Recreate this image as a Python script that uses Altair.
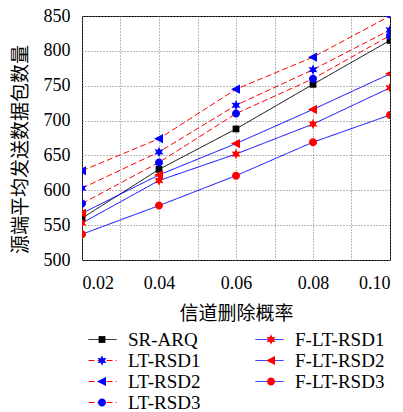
import math
import altair as alt
import pandas as pd

# ---------------- data ----------------
x_vals = [0.02, 0.04, 0.06, 0.08, 0.10]
series_names = ["SR-ARQ", "LT-RSD1", "LT-RSD2", "LT-RSD3",
                "F-LT-RSD1", "F-LT-RSD2", "F-LT-RSD3"]
sr_arq = [560, 630, 688, 752, 815]
lt_rsd1 = [603, 655, 722, 773, 830]
lt_rsd2 = [628, 674, 745, 791, 850]
lt_rsd3 = [581, 640, 710, 760, 822]
f_lt_rsd1 = [553, 614, 652, 695, 747]
f_lt_rsd2 = [567, 622, 667, 716, 767]
f_lt_rsd3 = [537, 578, 621, 669, 708]
all_values = [sr_arq, lt_rsd1, lt_rsd2, lt_rsd3, f_lt_rsd1, f_lt_rsd2, f_lt_rsd3]

x_tick_values = [0.02, 0.03, 0.04, 0.05, 0.06, 0.07, 0.08, 0.09, 0.10]
y_tick_values = [500, 550, 600, 650, 700, 750, 800, 850]

# ---------------- styles ----------------
line_colors = ["#000000", "#ff0000", "#ff0000", "#ff0000", "#0000ff", "#0000ff", "#0000ff"]
marker_colors = ["#000000", "#0000ff", "#0000ff", "#0000ff", "#ff0000", "#ff0000", "#ff0000"]
dashes = [[1, 0], [6, 3], [6, 3], [6, 3], [1, 0], [1, 0], [1, 0]]
marker_kinds = ["square", "star", "tri", "circle", "star", "tri", "circle"]

POINT_SIZE = 64          # -> 4 px per path unit
LEGEND_SYMBOL = 784      # -> 28 px wide legend symbol, 14 px per path unit


def shape_path(kind, s):
    def fmt(v):
        return f"{v * s:.3f}"
    if kind == "circle":
        r = 1.0
        return (f"M{fmt(-r)},0A{fmt(r)},{fmt(r)},0,1,1,{fmt(r)},0"
                f"A{fmt(r)},{fmt(r)},0,1,1,{fmt(-r)},0Z")
    if kind == "square":
        pts = [(-0.85, -0.85), (0.85, -0.85), (0.85, 0.85), (-0.85, 0.85)]
    elif kind == "tri":
        pts = [(-1.25, 0.0), (1.0, -1.15), (1.0, 1.15)]
    else:  # six-pointed star
        pts = []
        for k in range(12):
            ang = math.radians(-90 + 30 * k)
            rad = 1.3 if k % 2 == 0 else 0.65
            pts.append((rad * math.cos(ang), rad * math.sin(ang)))
    return "M" + "L".join(f"{fmt(px)},{fmt(py)}" for px, py in pts) + "Z"


plot_paths = [shape_path(k, 1.0) for k in marker_kinds]
leg_scale = math.sqrt(POINT_SIZE) / math.sqrt(LEGEND_SYMBOL)
leg_paths = [shape_path(k, leg_scale) for k in marker_kinds]

rows = []
for order, (name, vals) in enumerate(zip(series_names, all_values)):
    for xv, yv in zip(x_vals, vals):
        rows.append({"series": name, "series_leg": name, "order": order, "x": xv, "y": yv})
df = pd.DataFrame(rows)

LATIN = "Liberation Serif"
CJK = "Noto Sans CJK SC"

x_enc = alt.X(
    "x:Q",
    scale=alt.Scale(domain=[0.02, 0.10], nice=False, zero=False),
    axis=alt.Axis(
        values=x_tick_values,
        labelExpr="round(datum.value*100) % 2 == 0 ? format(datum.value, '.2f') : ''",
        title="信道删除概率",
        labelPadding=14,
        titleY=53,
        titleBaseline="middle",
    ),
)
y_enc = alt.Y(
    "y:Q",
    scale=alt.Scale(domain=[500, 850], nice=False, zero=False),
    axis=alt.Axis(
        values=y_tick_values,
        title="源端平均发送数据包数量",
        labelPadding=12,
        titleX=-62,
        titleY=133,
        titleBaseline="middle",
        titleAlign="center",
    ),
)

common_leg = dict(
    orient="none", legendX=6, legendY=313, columns=2,
    rowPadding=0, clipHeight=21, symbolSize=LEGEND_SYMBOL, labelOffset=11,
    labelFont=LATIN, labelFontSize=19, labelColor="#000000", padding=0,
    symbolOpacity=1,
)
line_legend = alt.Legend(symbolType="stroke", symbolStrokeWidth=1, zindex=1,
                         columnPadding=54, **common_leg)
marker_legend = alt.Legend(symbolStrokeWidth=0, labelExpr="''", zindex=2,
                           columnPadding=130, **common_leg)

lines = alt.Chart(df).mark_line(clip=True, strokeWidth=1).encode(
    x=x_enc, y=y_enc,
    stroke=alt.Stroke("series:N", title=None,
                      scale=alt.Scale(domain=series_names, range=line_colors),
                      legend=line_legend),
    strokeDash=alt.StrokeDash("series:N", title=None,
                              scale=alt.Scale(domain=series_names, range=dashes),
                              legend=line_legend),
)

points = alt.Chart(df).mark_point(filled=True, clip=True, size=POINT_SIZE,
                                  opacity=1, strokeWidth=0).encode(
    x=x_enc, y=y_enc,
    shape=alt.Shape("series:N", scale=alt.Scale(domain=series_names, range=plot_paths),
                    legend=None),
    fill=alt.Fill("series:N", scale=alt.Scale(domain=series_names, range=marker_colors),
                  legend=None),
)

leg_sort = alt.EncodingSortField(field="order", op="min")
legend_marks = alt.Chart(df).mark_point(filled=True, size=POINT_SIZE, opacity=0).encode(
    x=x_enc, y=y_enc,
    shape=alt.Shape("series_leg:N", sort=leg_sort, title=None,
                    scale=alt.Scale(range=leg_paths), legend=marker_legend),
    fill=alt.Fill("series_leg:N", sort=leg_sort, title=None,
                  scale=alt.Scale(range=marker_colors), legend=marker_legend),
)

chart = alt.layer(lines, points, legend_marks).resolve_scale(
    shape="independent", fill="independent"
).properties(
    width=308, height=244,
    autosize=alt.AutoSizeParams(type="none"),
    padding={"left": 82, "top": 16, "right": 13, "bottom": 152},
    background="white",
).configure(
    font=LATIN,
).configure_view(
    stroke="#000000", strokeWidth=1,
).configure_axis(
    domain=False, ticks=False,
    grid=True, gridColor="#777777", gridDash=[1, 2], gridWidth=1, gridOpacity=1,
    labelFont=LATIN, labelFontSize=18, labelColor="#000000",
    titleFont=CJK, titleFontSize=19, titleFontWeight="normal", titleColor="#000000",
)

chart.save("out.html", embed_options={"renderer": "svg", "actions": False})
